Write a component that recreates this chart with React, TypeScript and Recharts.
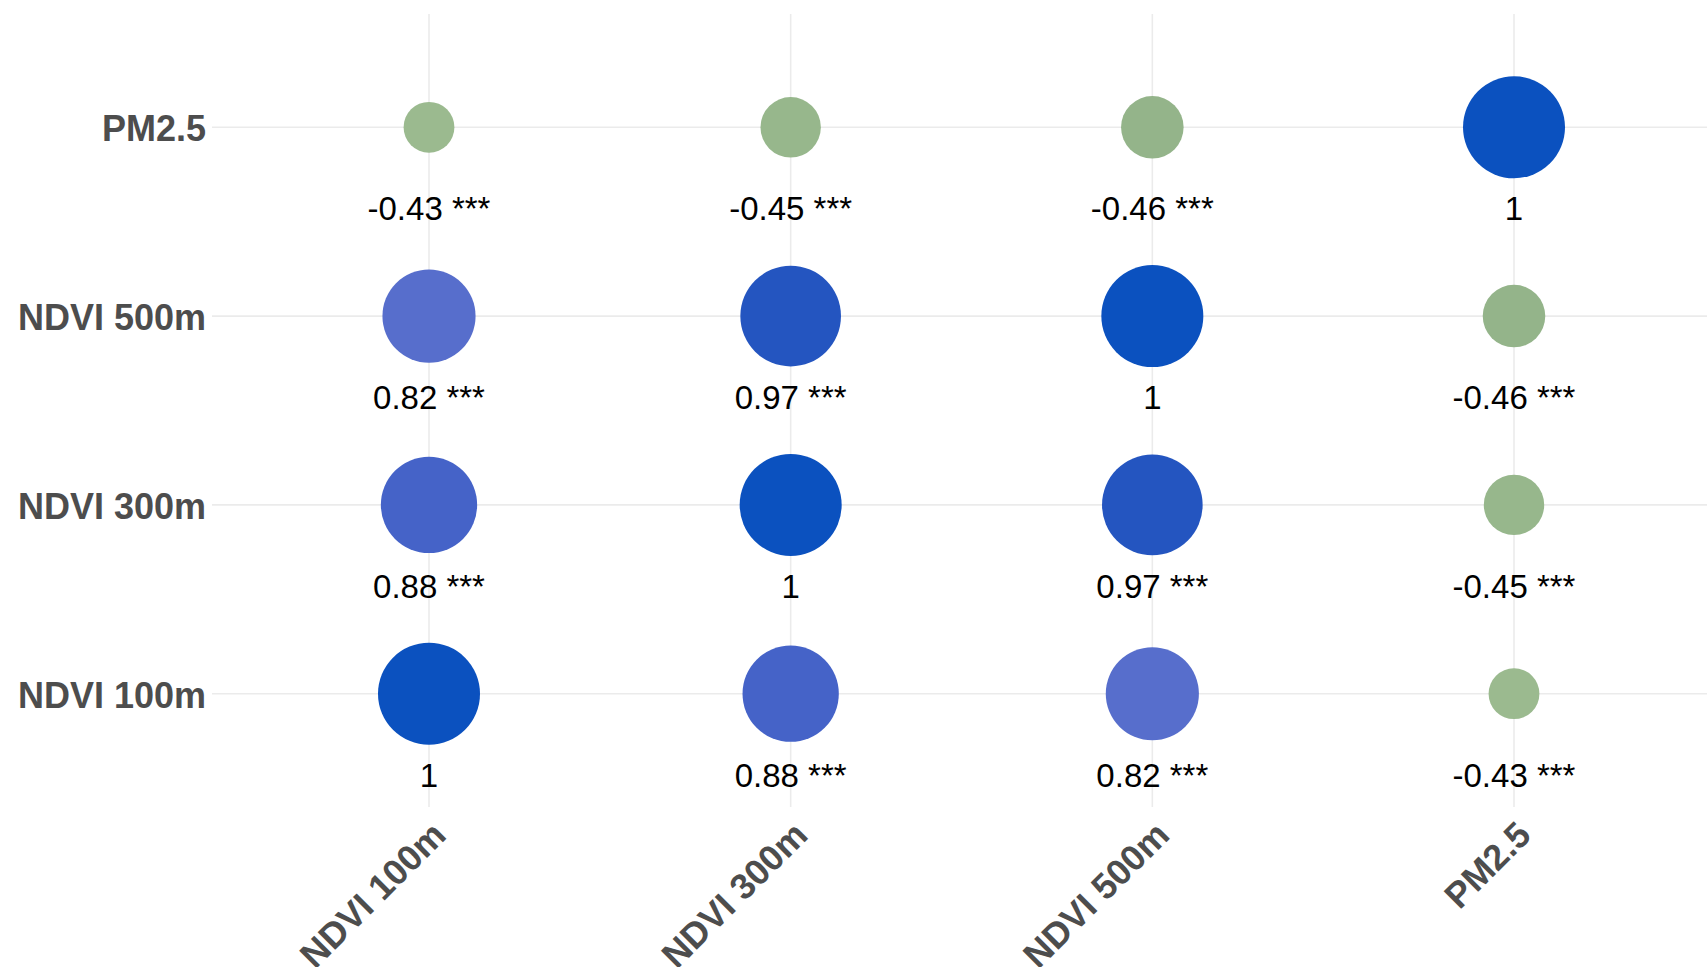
import React from "react";
import { ScatterChart, Scatter, XAxis, YAxis, CartesianGrid } from "recharts";

// Variables (x: left→right, y: bottom→top)
const variables = ["NDVI 100m", "NDVI 300m", "NDVI 500m", "PM2.5"];

// Correlation rows (one per variable, columns in `variables` order)
const ndvi100 = [1, 0.88, 0.82, -0.43];
const ndvi300 = [0.88, 1, 0.97, -0.45];
const ndvi500 = [0.82, 0.97, 1, -0.46];
const pm25 = [-0.43, -0.45, -0.46, 1];

// Significance marks
const sig100 = ["", "***", "***", "***"];
const sig300 = ["***", "", "***", "***"];
const sig500 = ["***", "***", "", "***"];
const sigPm = ["***", "***", "***", ""];

const tickPositions = [1, 2, 3, 4];

const matrix = [ndvi100, ndvi300, ndvi500, pm25];
const signif = [sig100, sig300, sig500, sigPm];

const cells: { x: number; y: number; r: number; sig: string }[] = [];
variables.forEach((_, ri) =>
  variables.forEach((__, ci) =>
    cells.push({ x: ci + 1, y: ri + 1, r: matrix[ri][ci], sig: signif[ri][ci] })
  )
);

// colour scale (by correlation value)
const colourByValue: Record<string, string> = {
  "1": "#0b51bf",
  "0.97": "#2455c0",
  "0.88": "#4563c8",
  "0.82": "#576ecc",
  "-0.43": "#9bba8f",
  "-0.45": "#97b78c",
  "-0.46": "#94b48a",
};

// size scale: area-style (sqrt) mapping of |r| onto a radius range
const absVals = cells.map((c) => Math.abs(c.r));
const minAbs = Math.min(...absVals);
const maxAbs = Math.max(...absVals);
const R_MIN = 25.4;
const R_MAX = 51;
const radiusOf = (v: number) =>
  R_MIN + (R_MAX - R_MIN) * Math.sqrt((Math.abs(v) - minAbs) / (maxAbs - minAbs));

const fmt = (v: number) => (Number.isInteger(v) ? String(v) : v.toFixed(2));

const FONT = "'Liberation Sans', Arial, Helvetica, sans-serif";

const CellShape = (props: any) => {
  const { cx, cy, payload } = props;
  const label = `${fmt(payload.r)}${payload.sig ? " " + payload.sig : ""}`;
  return (
    <g>
      <circle cx={cx} cy={cy} r={radiusOf(payload.r)} fill={colourByValue[String(payload.r)] || "#888"} />
      <text
        x={cx}
        y={cy + 93}
        textAnchor="middle"
        fontSize={33}
        fontFamily={FONT}
        fill="#000000"
      >
        {label}
      </text>
    </g>
  );
};

const XTick = (props: any) => {
  const { x, y, payload } = props;
  const name = variables[payload.value - 1];
  return (
    <text
      transform={`translate(${x + 19}, ${y + 30}) rotate(-45)`}
      textAnchor="end"
      fontSize={36}
      fontWeight="bold"
      fontFamily={FONT}
      fill="#4d4d4d"
    >
      {name}
    </text>
  );
};

const YTick = (props: any) => {
  const { x, y, payload } = props;
  const name = variables[payload.value - 1];
  return (
    <text
      x={x}
      y={y + 14}
      textAnchor="end"
      fontSize={36}
      fontWeight="bold"
      fontFamily={FONT}
      fill="#4d4d4d"
    >
      {name}
    </text>
  );
};

export default function App() {
  return (
    <div
      style={{
        position: "absolute",
        left: 0,
        top: 0,
        width: 1707,
        height: 967,
        overflow: "hidden",
        background: "#ffffff",
      }}
    >
      <ScatterChart
        width={1731}
        height={967}
        margin={{ top: 14, right: 0, bottom: 0, left: 0 }}
      >
        <CartesianGrid stroke="#ebebeb" strokeWidth={1.6} syncWithTicks />
        <XAxis
          type="number"
          dataKey="x"
          domain={[0.4, 4.6]}
          ticks={tickPositions}
          interval={0}
          axisLine={false}
          tickLine={false}
          tickSize={0}
          tickMargin={0}
          height={160}
          tick={<XTick />}
        />
        <YAxis
          type="number"
          dataKey="y"
          domain={[0.4, 4.6]}
          ticks={tickPositions}
          interval={0}
          axisLine={false}
          tickLine={false}
          tickSize={0}
          tickMargin={6}
          width={212}
          tick={<YTick />}
        />
        <Scatter data={cells} isAnimationActive={false} shape={<CellShape />} />
      </ScatterChart>
    </div>
  );
}
